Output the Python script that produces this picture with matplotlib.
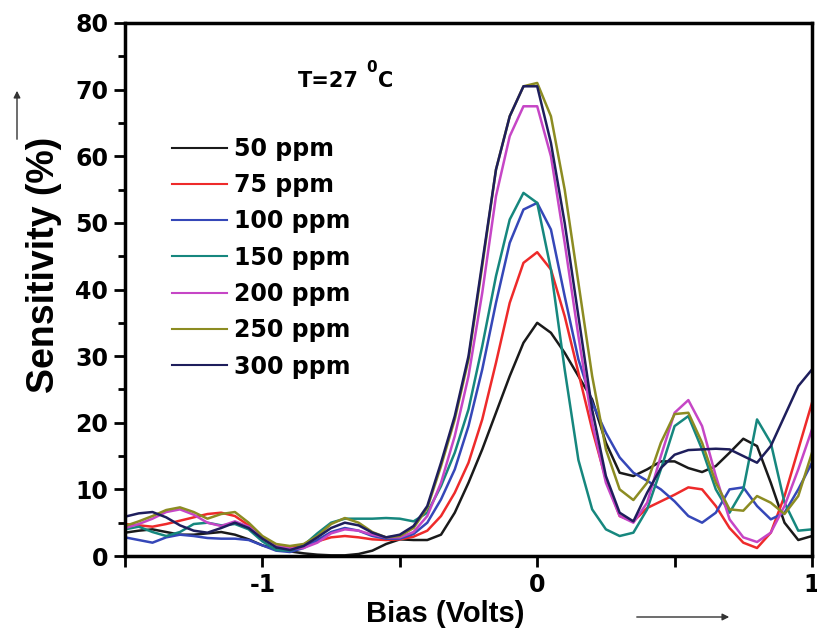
import matplotlib
matplotlib.use("Agg")
import matplotlib.pyplot as plt
import matplotlib.patches as mpatches

# ---------------- data ----------------
bias = [-1.50, -1.45, -1.40, -1.35, -1.30, -1.25, -1.20, -1.15, -1.10, -1.05,
        -1.00, -0.95, -0.90, -0.85, -0.80, -0.75, -0.70, -0.65, -0.60, -0.55,
        -0.50, -0.45, -0.40, -0.35, -0.30, -0.25, -0.20, -0.15, -0.10, -0.05,
        0.00, 0.05, 0.10, 0.15, 0.20, 0.25, 0.30, 0.35, 0.40, 0.45,
        0.50, 0.55, 0.60, 0.65, 0.70, 0.75, 0.80, 0.85, 0.90, 0.95, 1.00]

s50 = [3.5, 3.8, 4.0, 3.6, 3.2, 3.2, 3.4, 3.6, 3.2, 2.5,
       1.6, 1.0, 0.7, 0.4, 0.2, 0.1, 0.1, 0.3, 0.8, 1.8,
       2.5, 2.4, 2.4, 3.2, 6.5, 11.0, 16.0, 21.5, 27.0, 32.0,
       35.0, 33.5, 30.5, 27.0, 23.5, 17.0, 12.5, 12.0, 13.0, 14.2,
       14.2, 13.2, 12.6, 13.5, 15.5, 17.6, 16.5, 11.0, 5.0, 2.4, 3.0]

s75 = [4.8, 4.6, 4.4, 4.8, 5.3, 5.8, 6.3, 6.5, 6.0, 4.6,
       2.8, 1.6, 1.4, 1.6, 2.2, 2.8, 3.0, 2.8, 2.5, 2.4,
       2.5, 2.9, 3.8, 6.0, 9.5, 14.0, 20.5, 29.0, 38.0, 44.0,
       45.6, 43.0, 36.0, 27.5, 19.0, 11.5, 6.0, 5.2, 7.2, 8.2,
       9.2, 10.3, 10.0, 7.5, 4.2, 2.0, 1.2, 3.5, 9.0, 16.0, 23.0]

s100 = [2.8, 2.4, 2.0, 2.8, 3.2, 3.0, 2.7, 2.6, 2.6, 2.4,
        1.6, 0.8, 0.6, 1.2, 2.4, 3.6, 4.2, 3.8, 3.0, 2.6,
        2.6, 3.3, 5.0, 8.5, 13.0, 19.5, 28.0, 38.0, 47.0, 52.0,
        53.0, 49.0, 39.0, 29.5, 23.0, 18.5, 14.8, 12.5, 11.3, 10.0,
        8.2, 6.0, 5.0, 6.5, 10.0, 10.3, 7.5, 5.5, 6.5, 10.0, 14.0]

s150 = [4.0, 4.4, 3.6, 3.0, 3.6, 4.8, 5.0, 4.6, 4.8, 4.0,
        2.2, 0.9, 0.8, 1.6, 3.4, 5.0, 5.6, 5.6, 5.6, 5.7,
        5.6, 5.2, 6.5, 10.5, 15.5, 22.0, 31.5, 42.0, 50.5, 54.5,
        53.0, 43.0, 28.0, 14.4, 7.0, 4.0, 3.0, 3.5, 7.0, 13.0,
        19.5, 21.0, 16.0, 10.0, 6.5, 10.0, 20.5, 17.0, 8.0, 3.8, 4.0]

s200 = [4.2, 4.8, 5.6, 6.6, 7.0, 6.2, 5.0, 4.5, 5.2, 4.4,
        2.8, 1.5, 1.1, 1.2, 2.0, 3.4, 4.0, 3.8, 3.2, 2.8,
        2.8, 3.6, 6.0, 11.0, 18.0, 27.0, 39.5, 54.0, 63.0, 67.5,
        67.5, 60.0, 47.0, 33.0, 20.0, 11.0, 6.0, 5.0, 8.0, 15.0,
        21.5, 23.4, 19.5, 12.0, 5.5, 2.8, 2.1, 3.5, 7.5, 13.0, 19.0]

s250 = [4.5, 5.2, 6.0, 6.9, 7.3, 6.6, 5.6, 6.3, 6.6, 5.0,
        3.0, 1.8, 1.5, 1.8, 3.0, 4.8, 5.7, 5.0, 3.6, 2.8,
        3.0, 4.2, 7.2, 13.5, 20.5, 29.5, 43.5, 58.0, 66.0, 70.5,
        71.0, 66.0, 55.0, 41.0, 27.0, 16.0, 10.0, 8.4, 11.0, 17.0,
        21.3, 21.5, 17.0, 11.0, 7.0, 6.8, 9.0, 8.0, 6.3, 9.0, 15.5]

s300 = [5.9, 6.4, 6.6, 5.8, 4.6, 3.8, 3.5, 4.2, 5.0, 4.2,
        2.6, 1.3, 0.9, 1.5, 2.8, 4.2, 5.0, 4.6, 3.5, 2.8,
        3.2, 4.5, 7.5, 14.0, 21.0, 30.0, 44.0, 58.0, 66.0, 70.5,
        70.5, 62.0, 50.0, 36.0, 22.0, 12.0, 6.5, 5.2, 9.5, 13.2,
        15.2, 15.9, 16.0, 16.1, 16.0, 15.0, 14.0, 16.5, 21.0, 25.5, 28.0]

labels = ["50 ppm", "75 ppm", "100 ppm", "150 ppm", "200 ppm", "250 ppm", "300 ppm"]
series = [s50, s75, s100, s150, s200, s250, s300]
colors = ["#1a1a1a", "#ee2a2a", "#3547b8", "#16877e", "#c646c6", "#8c8c22", "#1e1e5c"]

yticks = [0, 10, 20, 30, 40, 50, 60, 70, 80]
yminor = [5, 15, 25, 35, 45, 55, 65, 75]
xticks = [-1.5, -1.0, -0.5, 0.0, 0.5, 1.0]
xticklabels = ["", "-1", "", "0", "", "1"]

# ---------------- plot ----------------
plt.rcParams['font.family'] = ['DejaVu Sans']
plt.rcParams['font.weight'] = 'bold'

fig = plt.figure(figsize=(8.17, 6.34), dpi=100)
ax = fig.add_axes([125/817, 78/634, 687/817, 533/634])

for lab, ys, c in zip(labels, series, colors):
    ax.plot(bias, ys, color=c, lw=1.8, label=lab)

ax.set_xlim(-1.5, 1.0)
ax.set_ylim(0, 80)
ax.set_yticks(yticks)
ax.set_yticks(yminor, minor=True)
ax.set_xticks(xticks)
ax.set_xticklabels(xticklabels)

for s in ax.spines.values():
    s.set_linewidth(2.5)
ax.tick_params(axis='both', which='major', direction='out', length=8, width=2,
               labelsize=17, pad=4)
ax.tick_params(axis='y', which='minor', direction='out', length=5, width=2)
for t in ax.get_xticklabels() + ax.get_yticklabels():
    t.set_fontweight('bold')

ax.set_ylabel("Sensitivity (%)", fontsize=27, fontweight='bold',
              family=['Liberation Sans', 'DejaVu Sans'])
ax.yaxis.set_label_coords(-0.092, 0.546)
ax.set_xlabel("Bias (Volts)", fontsize=21, fontweight='bold',
              family=['Liberation Sans', 'DejaVu Sans'])
ax.xaxis.set_label_coords(0.466, -0.083)

leg = ax.legend(loc='upper left', bbox_to_anchor=(0.055, 0.804), frameon=False,
                prop={'size': 17, 'weight': 'bold'}, handlelength=2.3,
                handletextpad=0.3, labelspacing=0.52, borderaxespad=0)
for line in leg.get_lines():
    line.set_linewidth(1.5)

ax.text((298-125)/687, (556-87)/533, "T=27", transform=ax.transAxes,
        fontsize=15, fontweight='bold', ha='left', va='baseline')
ax.text((366-125)/687, (556-72)/533, "0", transform=ax.transAxes,
        fontsize=11, fontweight='bold', ha='left', va='baseline')
ax.text((378-125)/687, (556-87)/533, "C", transform=ax.transAxes,
        fontsize=15, fontweight='bold', ha='left', va='baseline')

# arrows
fig.patches.append(mpatches.FancyArrowPatch(
    (17/817, (634-142)/634), (17/817, (634-88)/634), transform=fig.transFigure,
    arrowstyle='-|>', mutation_scale=10, lw=1.0, color='#333333'))
fig.patches.append(mpatches.FancyArrowPatch(
    (634/817, (634-617)/634), (732/817, (634-617)/634), transform=fig.transFigure,
    arrowstyle='-|>', mutation_scale=10, lw=1.0, color='#333333'))

fig.savefig("out.png", dpi=100)
